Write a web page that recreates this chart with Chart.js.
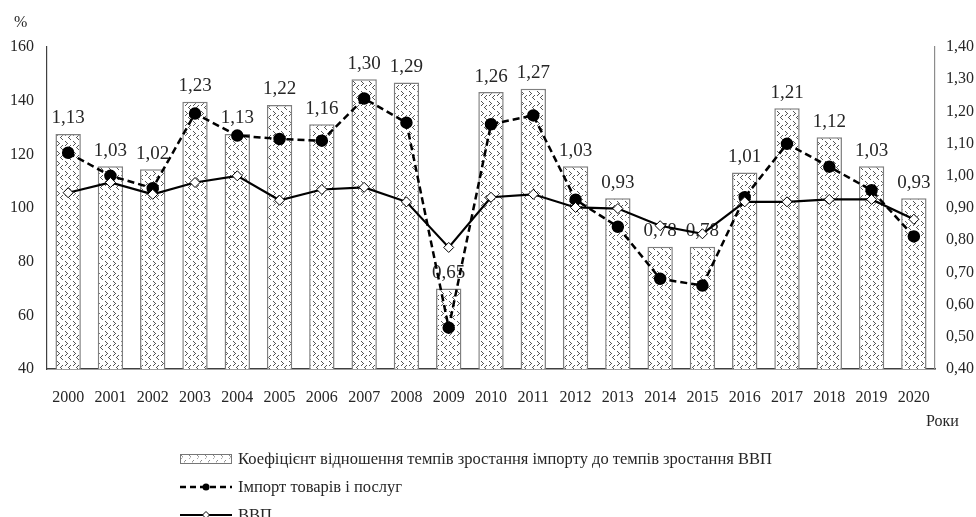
<!DOCTYPE html>
<html>
<head>
<meta charset="utf-8">
<script src="https://cdn.jsdelivr.net/npm/chart.js@4"></script>
<style>
  body { margin: 0; background: #fff; }
  #wrap { position: relative; width: 976px; height: 517px; font-family: "Liberation Serif", serif; color: #262626; }
  #wrap canvas { position: absolute; left: 0; top: 0; }
  .txt { position: absolute; font-size: 16px; white-space: nowrap; }
  .leg { position: absolute; left: 180px; font-size: 16.5px; display: flex; align-items: center; white-space: nowrap; }
  .leg svg { margin-right: 6px; }
</style>
</head>
<body>
<div id="wrap">
  <canvas id="chart" width="976" height="517"></canvas>
  <div class="txt" style="left:14px; top:13px;">%</div>
  <div class="txt" style="left:926px; top:412px;">Роки</div>
  <div class="leg" style="top:449px;">
    <svg width="52" height="10">
      <defs>
        <pattern id="chev" width="8" height="10" patternUnits="userSpaceOnUse">
          <path d="M1 1 L3 3 L1 5 M6 6 L4 8 L6 10" stroke="#555" stroke-width="1" fill="none" stroke-dasharray="1 1"/>
        </pattern>
      </defs>
      <rect x="0.5" y="0.5" width="51" height="9" fill="url(#chev)" stroke="#777"/>
    </svg>
    <span>Коефіцієнт відношення темпів зростання імпорту до темпів зростання ВВП</span>
  </div>
  <div class="leg" style="top:477px;">
    <svg width="52" height="10">
      <line x1="0" y1="5" x2="52" y2="5" stroke="#000" stroke-width="2.5" stroke-dasharray="6 4"/>
      <circle cx="26" cy="5" r="3.5" fill="#000"/>
    </svg>
    <span>Імпорт товарів і послуг</span>
  </div>
  <div class="leg" style="top:505px;">
    <svg width="52" height="10">
      <line x1="0" y1="5" x2="52" y2="5" stroke="#000" stroke-width="2"/>
      <path d="M26 1.5 L29.5 5 L26 8.5 L22.5 5 Z" fill="#fff" stroke="#000" stroke-width="1"/>
    </svg>
    <span>ВВП</span>
  </div>
</div>
<script>
const years = ['2000','2001','2002','2003','2004','2005','2006','2007','2008','2009','2010',
               '2011','2012','2013','2014','2015','2016','2017','2018','2019','2020']
const ratio = [1.13,1.03,1.02,1.23,1.13,1.22,1.16,1.30,1.29,0.65,1.26,1.27,1.03,0.93,0.78,0.78,1.01,1.21,1.12,1.03,0.93]
const importGoods = [120.6,112,107.4,135.2,127,125.7,125.1,140.8,131.8,55.4,131.2,134.5,103.1,93,73.6,71.1,104,123.9,115.4,106.6,89.4]
const gdp = [105.7,109.5,105.1,109.5,112,102.9,106.9,107.7,102.3,85.3,104,105.1,100.2,99.8,93.4,90.4,102.3,102.3,103.2,103.2,95.8]
const leftTicks = [40,60,80,100,120,140,160]
const rightTicks = [0.4,0.5,0.6,0.7,0.8,0.9,1.0,1.1,1.2,1.3,1.4]

const ctx = document.getElementById('chart').getContext('2d')

// chevron fill for the bars
const tile = document.createElement('canvas')
tile.width = 8
tile.height = 10
const tc = tile.getContext('2d')
tc.fillStyle = '#fff'
tc.fillRect(0, 0, 8, 10)
tc.fillStyle = '#555'
;[[1,1],[2,2],[3,3],[2,4],[1,5],[6,5],[5,6],[4,7],[5,8],[6,9]].forEach(p => tc.fillRect(p[0], p[1], 1, 1))
const chevron = ctx.createPattern(tile, 'repeat')

const fontFamily = '"Liberation Serif", serif'
const comma = (v, d) => v.toFixed(d).replace('.', ',')

const barLabels = {
    id: 'barLabels',
    afterDatasetDraw(chart, args) {
        if (args.index !== 0) return
        const c = chart.ctx
        c.save()
        c.font = '19px ' + fontFamily
        c.fillStyle = '#262626'
        c.textAlign = 'center'
        c.textBaseline = 'bottom'
        args.meta.data.forEach((bar, i) => {
            c.fillText(comma(ratio[i], 2), bar.x, bar.y - 6)
        })
        c.restore()
    }
}

new Chart(ctx, {
    data: {
        labels: years,
        datasets: [{
            type: 'bar',
            label: 'Коефіцієнт відношення темпів зростання імпорту до темпів зростання ВВП',
            data: ratio,
            yAxisID: 'y1',
            backgroundColor: chevron,
            borderColor: '#7f7f7f',
            borderWidth: 1.5,
            barPercentage: 0.6,
            categoryPercentage: 1,
            order: 3
        }, {
            type: 'line',
            label: 'Імпорт товарів і послуг',
            data: importGoods,
            yAxisID: 'y',
            borderColor: '#000',
            borderWidth: 2.5,
            borderDash: [7, 4],
            pointRadius: 5,
            pointBackgroundColor: '#000',
            pointBorderColor: '#000',
            tension: 0,
            order: 2
        }, {
            type: 'line',
            label: 'ВВП',
            data: gdp,
            yAxisID: 'y',
            borderColor: '#000',
            borderWidth: 2.2,
            pointStyle: 'rectRot',
            pointRadius: 5,
            pointBackgroundColor: '#fff',
            pointBorderColor: '#000',
            pointBorderWidth: 1,
            tension: 0,
            order: 1
        }]
    },
    options: {
        responsive: false,
        animation: false,
        layout: { padding: { top: 47, bottom: 108, left: 0, right: 0 } },
        plugins: { legend: { display: false }, tooltip: { enabled: false } },
        scales: {
            x: {
                grid: { display: false, drawTicks: false },
                border: { color: '#404040', width: 1.5 },
                ticks: { color: '#262626', font: { family: fontFamily, size: 16 }, maxRotation: 0, padding: 19 },
                afterFit: s => { s.height = 40 }
            },
            y: {
                position: 'left',
                min: leftTicks[0],
                max: leftTicks[leftTicks.length - 1],
                afterBuildTicks: s => { s.ticks = leftTicks.map(v => ({ value: v })) },
                grid: { display: false, drawTicks: false },
                border: { color: '#404040', width: 1.2 },
                ticks: { color: '#262626', font: { family: fontFamily, size: 16 }, padding: 13 },
                afterFit: s => { s.width = 47 }
            },
            y1: {
                position: 'right',
                min: rightTicks[0],
                max: rightTicks[rightTicks.length - 1],
                afterBuildTicks: s => { s.ticks = rightTicks.map(v => ({ value: v })) },
                grid: { display: false, drawTicks: false },
                border: { color: '#8c8c8c', width: 1.2 },
                ticks: { color: '#262626', font: { family: fontFamily, size: 16 }, padding: 11, callback: v => comma(v, 2) },
                afterFit: s => { s.width = 41 }
            }
        }
    },
    plugins: [barLabels]
})
</script>
</body>
</html>
